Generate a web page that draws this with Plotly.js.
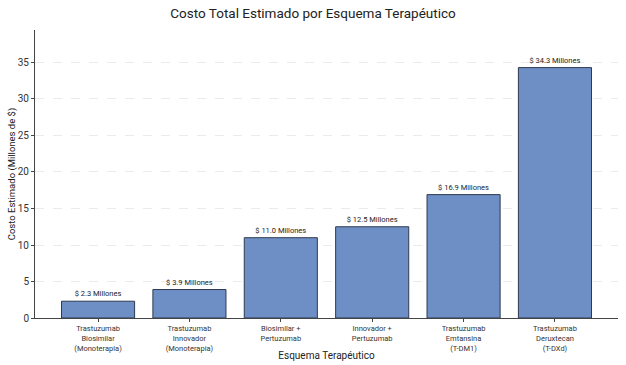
<!DOCTYPE html>
<html><head><meta charset="utf-8">
<script src="https://cdn.plot.ly/plotly-3.0.1.min.js"></script>
<style>html,body{margin:0;padding:0;background:#fff}#c{width:626px;height:365px}</style>
</head><body><div id="c"></div>
<script>
const categories = ["Trastuzumab<br>Biosimilar<br>(Monoterapia)","Trastuzumab<br>Innovador<br>(Monoterapia)","Biosimilar +<br>Pertuzumab","Innovador +<br>Pertuzumab","Trastuzumab<br>Emtansina<br>(T-DM1)","Trastuzumab<br>Deruxtecan<br>(T-DXd)"];
const costs = [2.3, 3.9, 11.0, 12.5, 16.9, 34.3];
const labels = costs.map(v => "$ " + v.toFixed(1) + " Millones");
const idx = categories.map((_, i) => i);
const font = "Roboto, 'Open Sans', sans-serif";
const trace = {
  type: "bar", x: idx, y: costs, width: 0.8,
  marker: {color: "#6d8fc5", line: {color: "#2f3a4f", width: 1}},
  text: labels, textposition: "outside", cliponaxis: false,
  textfont: {size: 7.5, color: "#222", family: font},
  hoverinfo: "none"
};
const layout = {
  width: 626, height: 365,
  margin: {l: 35, r: 8, t: 30, b: 47},
  paper_bgcolor: "#fff", plot_bgcolor: "#fff",
  font: {family: font, color: "#222"},
  title: {text: "Costo Total Estimado por Esquema Terapéutico", font: {size: 13.5, color: "#222"}, x: 0.5, xanchor: "center", y: 0.965, yanchor: "middle"},
  showlegend: false, bargap: 0.2,
  xaxis: {
    range: [-0.69, 5.69], tickmode: "array", tickvals: idx, ticktext: categories,
    tickfont: {size: 7.5, color: "#333"}, ticks: "outside", ticklen: 3, tickcolor: "#444",
    showline: true, linecolor: "#444", linewidth: 1, showgrid: false, zeroline: false,
    title: {text: "Esquema Terapéutico", font: {size: 10, color: "#222"}, standoff: 0}
  },
  yaxis: {
    range: [0, 39.45], dtick: 5, tickfont: {size: 10, color: "#333"},
    ticks: "outside", ticklen: 3, tickcolor: "#444",
    showline: true, linecolor: "#444", linewidth: 1,
    showgrid: true, gridcolor: "#e6e6e6", griddash: "dash", gridwidth: 0.8, zeroline: false,
    title: {text: "Costo Estimado (Millones de $)", font: {size: 9.5, color: "#222"}, standoff: 0}
  }
};
Plotly.newPlot("c", [trace], layout, {displayModeBar: false, staticPlot: true});
</script></body></html>
